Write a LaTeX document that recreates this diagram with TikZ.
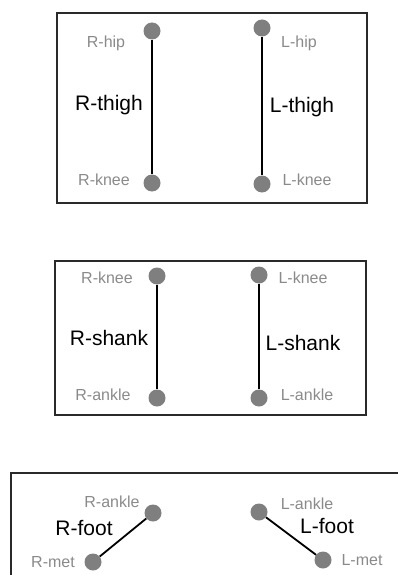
\documentclass[tikz,border=0pt]{standalone}
\usepackage{fontspec}
\setmainfont{Liberation Sans}
\definecolor{jointgray}{HTML}{7F7F7F}
\definecolor{labelgray}{HTML}{8A8A8A}
\definecolor{boxline}{HTML}{2A2A2A}
\begin{document}
\begin{tikzpicture}[x=1pt,y=-1pt,
  joint/.style={circle,fill=jointgray,draw=none,minimum size=17pt,inner sep=0pt},
  small/.style={text=labelgray,font=\fontsize{16}{16}\selectfont,inner sep=0pt},
  big/.style={text=black,font=\fontsize{21}{21}\selectfont,inner sep=0pt},
  seg/.style={draw=black,line width=2pt},
  frame/.style={draw=boxline,line width=1.5pt}]
\useasboundingbox (0,0) rectangle (397,575);
% frames
\draw[frame] (57,13) rectangle (367,203);
\draw[frame] (55,261) rectangle (366,415);
\draw[frame] (11,577) -- (11,473) -- (399,473);
% box 1
\node[joint] (rhip) at (152,31) {};
\node[joint] (rknee1) at (152,183) {};
\node[joint] (lhip) at (262,28) {};
\node[joint] (lknee1) at (262,184) {};
\draw[seg] (rhip) -- (rknee1);
\draw[seg] (lhip) -- (lknee1);
\node[small] (trhip) at (106,43) {R-hip};
\node[small] (trknee1) at (104,180) {R-knee};
\node[big] (trthigh) at (109,105) {R-thigh};
\node[small] (tlhip) at (299,43) {L-hip};
\node[small] (tlknee1) at (307,180) {L-knee};
\node[big] (tlthigh) at (302,107) {L-thigh};
% box 2
\node[joint] (rknee2) at (157,276) {};
\node[joint] (rankle2) at (157,398) {};
\node[joint] (lknee2) at (259,275) {};
\node[joint] (lankle2) at (259,398) {};
\draw[seg] (rknee2) -- (rankle2);
\draw[seg] (lknee2) -- (lankle2);
\node[small] (trknee2) at (107,278) {R-knee};
\node[small] (trankle2) at (103,395) {R-ankle};
\node[big] (trshank) at (109,338) {R-shank};
\node[small] (tlknee2) at (303,278) {L-knee};
\node[small] (tlankle2) at (307,395) {L-ankle};
\node[big] (tlshank) at (303,343) {L-shank};
% box 3
\node[joint] (rankle3) at (153,513) {};
\node[joint] (rmet) at (93,562) {};
\node[joint] (lankle3) at (259,512) {};
\node[joint] (lmet) at (323,560) {};
\draw[seg,line width=1.8pt] (rankle3) -- (rmet);
\draw[seg,line width=1.8pt] (lankle3) -- (lmet);
\node[small] (trankle3) at (112,502) {R-ankle};
\node[big] (trfoot) at (84,528) {R-foot};
\node[small] (trmet) at (53,562) {R-met};
\node[small] (tlankle3) at (307,504) {L-ankle};
\node[big] (tlfoot) at (327,526) {L-foot};
\node[small] (tlmet) at (362,560) {L-met};
\end{tikzpicture}
\end{document}
